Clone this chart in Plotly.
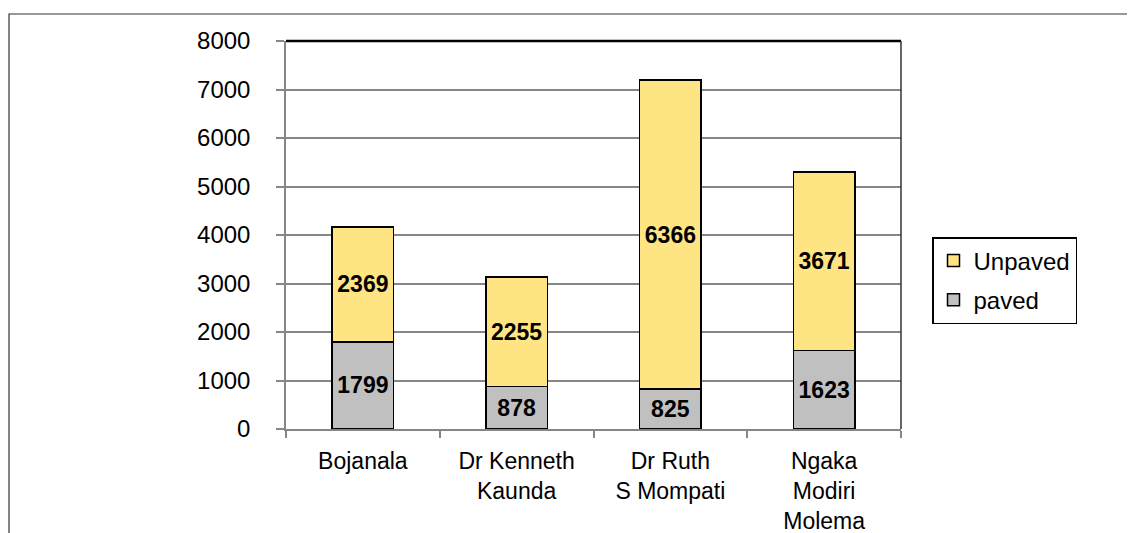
import plotly.graph_objects as go

categories = ["Bojanala", "Dr Kenneth<br>Kaunda", "Dr Ruth<br>S Mompati", "Ngaka<br>Modiri<br>Molema"]
paved = [1799, 878, 825, 1623]
unpaved = [2369, 2255, 6366, 3671]

# page body has an 8px margin; work in screen pixels then shift
OFF = 8
W, H = 1135 - OFF, 533 - OFF
L, R, T, B = 286 - OFF, 901 - OFF, 41 - OFF, 429 - OFF

FS_LAB = 23
FS_Y = 24
FS_X = 23
FS_LEG = 24

fig = go.Figure()
fig.add_trace(go.Bar(
    x=categories, y=paved, name="paved", legendgroup="b", legendrank=2,
    marker=dict(color="#C0C0C0", line=dict(color="black", width=1.5)),
    text=paved, textposition="inside", insidetextanchor="middle", textangle=0,
    constraintext="none",
    textfont=dict(family="Liberation Sans", size=FS_LAB, color="black", weight="bold"),
))
fig.add_trace(go.Bar(
    x=categories, y=unpaved, name="Unpaved", legendgroup="a", legendrank=1,
    marker=dict(color="#FFE484", line=dict(color="black", width=1.5)),
    text=unpaved, textposition="inside", insidetextanchor="middle", textangle=0,
    constraintext="none",
    textfont=dict(family="Liberation Sans", size=FS_LAB, color="black", weight="bold"),
))

pw = R - L
ph = B - T
def px_x(p):
    return (p - OFF - L) / pw
def px_y(p):
    return (B - (p - OFF)) / ph

fig.update_layout(
    width=W, height=H, autosize=False,
    margin=dict(l=L, r=W - R, t=T, b=H - B, pad=0, autoexpand=False),
    barmode="stack", bargap=0.6,
    plot_bgcolor="white", paper_bgcolor="white",
    font=dict(family="Liberation Sans", size=FS_Y, color="black"),
    showlegend=True,
    legend=dict(
        x=px_x(932), y=px_y(237), xanchor="left", yanchor="top",
        bordercolor="black", borderwidth=1.5,
        font=dict(size=FS_LEG), traceorder="grouped",
        tracegroupgap=5, entrywidth=140, entrywidthmode="pixels",
    ),
    xaxis=dict(
        automargin=False,
        showgrid=False, showline=True, linecolor="#868686", linewidth=1.5,
        ticks="outside", tickson="boundaries", ticklen=7, tickcolor="#868686", tickwidth=1.5,
        tickfont=dict(size=FS_X), ticklabelstandoff=11,
    ),
    yaxis=dict(
        automargin=False,
        range=[0, 8000], tickvals=[0, 1000, 2000, 3000, 4000, 5000, 6000, 7000, 8000],
        showgrid=True, gridcolor="#868686", gridwidth=1.5,
        showline=True, linecolor="#868686", linewidth=1.5,
        ticks="outside", ticklen=8, tickcolor="#868686", tickwidth=1.5,
        tickfont=dict(size=FS_Y), ticklabelstandoff=21, zeroline=False,
    ),
    shapes=[
        dict(type="line", xref="paper", yref="paper", x0=0, x1=1, y0=1, y1=1,
             line=dict(color="black", width=2.5)),
        dict(type="line", xref="paper", yref="paper", x0=1, x1=1, y0=0, y1=1,
             line=dict(color="#333333", width=1.5)),
        dict(type="rect", xref="paper", yref="paper",
             x0=px_x(9), x1=px_x(1200), y0=px_y(600), y1=px_y(14),
             line=dict(color="#333333", width=1.2), layer="below"),
    ],
)

fig.write_html("out.html")
